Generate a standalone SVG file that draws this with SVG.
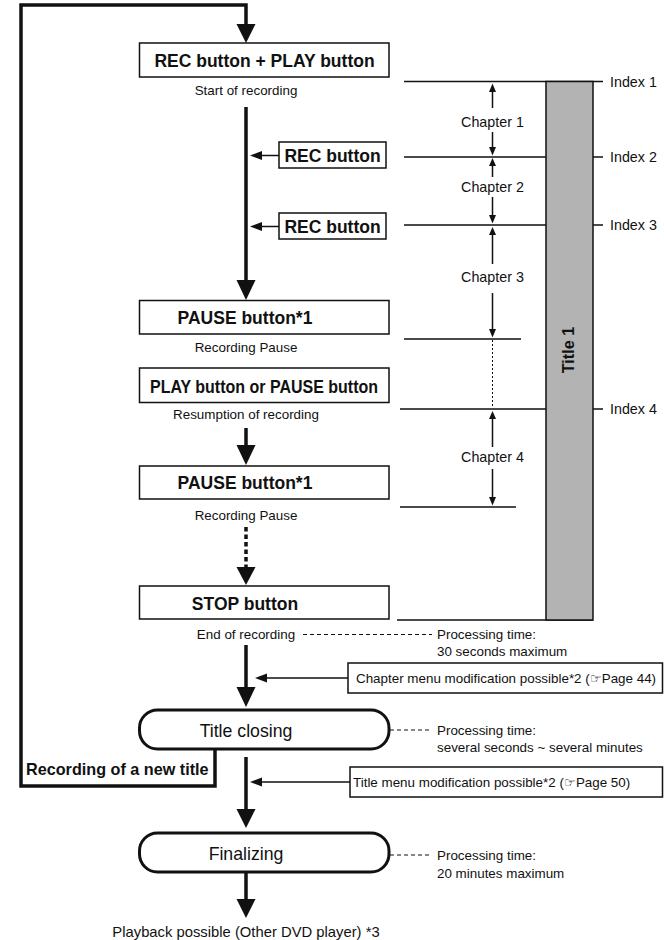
<svg xmlns="http://www.w3.org/2000/svg" width="664" height="940" viewBox="0 0 664 940">
<style>
text{font-family:"Liberation Sans",Arial,sans-serif;fill:#111}
.b{font-weight:bold;font-size:17.5px}
.s{font-size:13.4px}
.m{font-size:14.3px}
.box{fill:#fff;stroke:#111;stroke-width:1.5}
.pill{fill:#fff;stroke:#111;stroke-width:3}
.thick{fill:none;stroke:#111;stroke-width:3.5}
.thin{fill:none;stroke:#111;stroke-width:1.5}
.dash{fill:none;stroke:#111;stroke-width:1;stroke-dasharray:4 3}
.dot{fill:none;stroke:#111;stroke-width:1;stroke-dasharray:2 2}
.head{fill:#111}
</style>
<rect width="664" height="940" fill="#fff"/>

<g id="connectors">
  <!-- loop for new title -->
  <path class="thick" d="M215,749 V786 H21 V5 H246 V25"/>
  <polygon class="head" points="236.5,24 255.5,24 246,43"/>
  <!-- main flow -->
  <path class="thick" d="M246,107 V281"/>
  <polygon class="head" points="236.5,280 255.5,280 246,300"/>
  <path class="thick" d="M246,428 V446"/>
  <polygon class="head" points="236.5,445 255.5,445 246,465"/>
  <path class="thick" d="M246,527 V568" style="stroke-dasharray:4.5 3"/>
  <polygon class="head" points="236.5,567 255.5,567 246,585"/>
  <path class="thick" d="M246,645 V688"/>
  <polygon class="head" points="236.5,687 255.5,687 246,707"/>
  <path class="thick" d="M246,757 V810"/>
  <polygon class="head" points="236.5,809 255.5,809 246,828"/>
  <path class="thick" d="M246,872 V900"/>
  <polygon class="head" points="236.5,899 255.5,899 246,918"/>
  <!-- side inputs -->
  <path class="thin" d="M279,155.5 H261"/>
  <polygon class="head" points="262,151 262,160 250,155.5"/>
  <path class="thin" d="M279,226.5 H261"/>
  <polygon class="head" points="262,222 262,231 250,226.5"/>
  <path class="thin" d="M348,678 H266"/>
  <polygon class="head" points="267,673.5 267,682.5 255,678"/>
  <path class="thin" d="M350,782 H261"/>
  <polygon class="head" points="262,777.5 262,786.5 250,782"/>
  <!-- processing time leaders -->
  <path class="dash" d="M303,634.5 H432"/>
  <path class="dash" d="M390,730 H432"/>
  <path class="dash" d="M390,855 H432"/>
  <!-- index / chapter lines -->
  <path class="thin" d="M404,81.5 H603 M404,157 H603 M404,225 H603 M404,339 H521 M400,409 H603 M400,507 H516 M397,620 H593"/>
  <!-- chapter arrows -->
  <path class="thin" d="M492.5,91 V108 M492.5,132 V148 M492.5,165 V177 M492.5,197 V216 M492.5,234 V264 M492.5,293 V330 M492.5,418 V447 M492.5,469 V498"/>
  <path class="dot" d="M492.5,340 V406"/>
  <polygon class="head" points="489,92 496,92 492.5,83.5"/>
  <polygon class="head" points="489,147 496,147 492.5,155.5"/>
  <polygon class="head" points="489,166 496,166 492.5,158"/>
  <polygon class="head" points="489,215 496,215 492.5,223.5"/>
  <polygon class="head" points="489,235 496,235 492.5,227"/>
  <polygon class="head" points="489,329 496,329 492.5,337.5"/>
  <polygon class="head" points="489,419 496,419 492.5,411"/>
  <polygon class="head" points="489,497 496,497 492.5,505.5"/>
</g>

<g id="title1-bar">
  <rect x="546" y="81.5" width="47" height="538.5" fill="#b3b3b3" stroke="#111" stroke-width="1.5"/>
  <text class="b" style="font-size:16.2px" transform="translate(574,350) rotate(-90)" text-anchor="middle">Title 1</text>
</g>

<g id="indexes" class="m">
  <text class="m" x="610" y="86.5">Index 1</text>
  <text class="m" x="610" y="162">Index 2</text>
  <text class="m" x="610" y="230">Index 3</text>
  <text class="m" x="610" y="413.5">Index 4</text>
</g>
<g id="chapters" text-anchor="middle">
  <text class="m" x="492.5" y="126.5">Chapter 1</text>
  <text class="m" x="492.5" y="192">Chapter 2</text>
  <text class="m" x="492.5" y="282">Chapter 3</text>
  <text class="m" x="492.5" y="462">Chapter 4</text>
</g>

<g id="rec-play">
  <rect class="box" x="139.5" y="43" width="249.5" height="34"/>
  <text class="b" x="264.5" y="67" text-anchor="middle">REC button + PLAY button</text>
  <text class="s" x="246" y="95" text-anchor="middle">Start of recording</text>
</g>
<g id="rec1">
  <rect class="box" x="279" y="142" width="107" height="26"/>
  <text class="b" x="332.5" y="161.5" text-anchor="middle">REC button</text>
</g>
<g id="rec2">
  <rect class="box" x="279" y="213" width="107" height="26"/>
  <text class="b" x="332.5" y="232.5" text-anchor="middle">REC button</text>
</g>
<g id="pause1">
  <rect class="box" x="139.5" y="300.5" width="249.5" height="33.5"/>
  <text class="b" x="245" y="324" text-anchor="middle">PAUSE button*1</text>
  <text class="s" x="246" y="351.5" text-anchor="middle">Recording Pause</text>
</g>
<g id="resume">
  <rect class="box" x="139.5" y="368" width="249.5" height="34.5"/>
  <text class="b" x="264" y="392.5" text-anchor="middle" textLength="228" lengthAdjust="spacingAndGlyphs">PLAY button or PAUSE button</text>
  <text class="s" x="246" y="419" text-anchor="middle">Resumption of recording</text>
</g>
<g id="pause2">
  <rect class="box" x="139.5" y="466" width="249.5" height="33"/>
  <text class="b" x="245" y="488.5" text-anchor="middle">PAUSE button*1</text>
  <text class="s" x="246" y="520" text-anchor="middle">Recording Pause</text>
</g>
<g id="stop">
  <rect class="box" x="139.5" y="586" width="249.5" height="33"/>
  <text class="b" x="245" y="610" text-anchor="middle">STOP button</text>
  <text class="s" x="246" y="638.5" text-anchor="middle">End of recording</text>
  <text class="s" x="437" y="638.5">Processing time:</text>
  <text class="s" x="437" y="656">30 seconds maximum</text>
</g>
<g id="chapter-menu">
  <rect class="box" x="348" y="663" width="314.5" height="30"/>
  <text class="s" x="356" y="682.5">Chapter menu modification possible*2 (☞Page 44)</text>
</g>
<g id="title-closing">
  <rect class="pill" x="139.5" y="710" width="249.5" height="39" rx="18" ry="18"/>
  <text x="246" y="736.5" text-anchor="middle" style="font-size:17.7px">Title closing</text>
  <text class="s" x="437" y="734.5">Processing time:</text>
  <text class="s" x="437" y="752">several seconds ~ several minutes</text>
</g>
<g id="new-title">
  <text class="b" style="font-size:16.2px" x="26" y="775">Recording of a new title</text>
</g>
<g id="title-menu">
  <rect class="box" x="350" y="767" width="312.5" height="30"/>
  <text class="s" x="353" y="786.5">Title menu modification possible*2 (☞Page 50)</text>
</g>
<g id="finalizing">
  <rect class="pill" x="139.5" y="833" width="249.5" height="39" rx="18" ry="18"/>
  <text x="246" y="860" text-anchor="middle" style="font-size:17.7px">Finalizing</text>
  <text class="s" x="437" y="859.5">Processing time:</text>
  <text class="s" x="437" y="877.5">20 minutes maximum</text>
</g>
<g id="playback">
  <text x="246" y="937" text-anchor="middle" style="font-size:14.8px">Playback possible (Other DVD player) *3</text>
</g>
</svg>
